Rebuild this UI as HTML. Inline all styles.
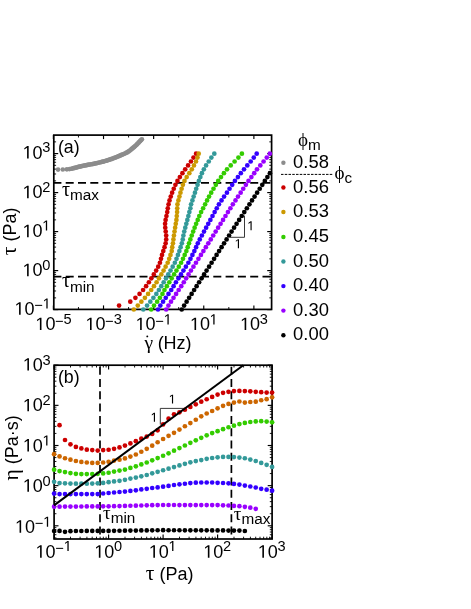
<!DOCTYPE html>
<html><head><meta charset="utf-8"><title>figure</title>
<style>html,body{margin:0;padding:0;background:#fff;}svg{display:block;will-change:transform;}text{fill:#000;}</style>
</head><body>
<svg width="471" height="609" viewBox="0 0 471 609">
<rect width="471" height="609" fill="#fff"/>
<g id="pa">
<line x1="53.40" y1="309.40" x2="53.40" y2="305.40" stroke="#000" stroke-width="1.15" />
<line x1="53.40" y1="135.10" x2="53.40" y2="139.10" stroke="#000" stroke-width="1.15" />
<line x1="78.46" y1="309.40" x2="78.46" y2="307.00" stroke="#000" stroke-width="0.9199999999999999" />
<line x1="78.46" y1="135.10" x2="78.46" y2="137.50" stroke="#000" stroke-width="0.9199999999999999" />
<line x1="103.52" y1="309.40" x2="103.52" y2="305.40" stroke="#000" stroke-width="1.15" />
<line x1="103.52" y1="135.10" x2="103.52" y2="139.10" stroke="#000" stroke-width="1.15" />
<line x1="128.58" y1="309.40" x2="128.58" y2="307.00" stroke="#000" stroke-width="0.9199999999999999" />
<line x1="128.58" y1="135.10" x2="128.58" y2="137.50" stroke="#000" stroke-width="0.9199999999999999" />
<line x1="153.64" y1="309.40" x2="153.64" y2="305.40" stroke="#000" stroke-width="1.15" />
<line x1="153.64" y1="135.10" x2="153.64" y2="139.10" stroke="#000" stroke-width="1.15" />
<line x1="178.70" y1="309.40" x2="178.70" y2="307.00" stroke="#000" stroke-width="0.9199999999999999" />
<line x1="178.70" y1="135.10" x2="178.70" y2="137.50" stroke="#000" stroke-width="0.9199999999999999" />
<line x1="203.76" y1="309.40" x2="203.76" y2="305.40" stroke="#000" stroke-width="1.15" />
<line x1="203.76" y1="135.10" x2="203.76" y2="139.10" stroke="#000" stroke-width="1.15" />
<line x1="228.82" y1="309.40" x2="228.82" y2="307.00" stroke="#000" stroke-width="0.9199999999999999" />
<line x1="228.82" y1="135.10" x2="228.82" y2="137.50" stroke="#000" stroke-width="0.9199999999999999" />
<line x1="253.88" y1="309.40" x2="253.88" y2="305.40" stroke="#000" stroke-width="1.15" />
<line x1="253.88" y1="135.10" x2="253.88" y2="139.10" stroke="#000" stroke-width="1.15" />
<line x1="53.80" y1="309.60" x2="58.20" y2="309.60" stroke="#000" stroke-width="1.15" />
<line x1="271.60" y1="309.60" x2="267.20" y2="309.60" stroke="#000" stroke-width="1.15" />
<line x1="53.80" y1="297.86" x2="56.10" y2="297.86" stroke="#000" stroke-width="0.9199999999999999" />
<line x1="271.60" y1="297.86" x2="269.30" y2="297.86" stroke="#000" stroke-width="0.9199999999999999" />
<line x1="53.80" y1="290.99" x2="56.10" y2="290.99" stroke="#000" stroke-width="0.9199999999999999" />
<line x1="271.60" y1="290.99" x2="269.30" y2="290.99" stroke="#000" stroke-width="0.9199999999999999" />
<line x1="53.80" y1="286.12" x2="56.10" y2="286.12" stroke="#000" stroke-width="0.9199999999999999" />
<line x1="271.60" y1="286.12" x2="269.30" y2="286.12" stroke="#000" stroke-width="0.9199999999999999" />
<line x1="53.80" y1="282.34" x2="56.10" y2="282.34" stroke="#000" stroke-width="0.9199999999999999" />
<line x1="271.60" y1="282.34" x2="269.30" y2="282.34" stroke="#000" stroke-width="0.9199999999999999" />
<line x1="53.80" y1="279.25" x2="56.10" y2="279.25" stroke="#000" stroke-width="0.9199999999999999" />
<line x1="271.60" y1="279.25" x2="269.30" y2="279.25" stroke="#000" stroke-width="0.9199999999999999" />
<line x1="53.80" y1="276.64" x2="56.10" y2="276.64" stroke="#000" stroke-width="0.9199999999999999" />
<line x1="271.60" y1="276.64" x2="269.30" y2="276.64" stroke="#000" stroke-width="0.9199999999999999" />
<line x1="53.80" y1="274.38" x2="56.10" y2="274.38" stroke="#000" stroke-width="0.9199999999999999" />
<line x1="271.60" y1="274.38" x2="269.30" y2="274.38" stroke="#000" stroke-width="0.9199999999999999" />
<line x1="53.80" y1="272.38" x2="56.10" y2="272.38" stroke="#000" stroke-width="0.9199999999999999" />
<line x1="271.60" y1="272.38" x2="269.30" y2="272.38" stroke="#000" stroke-width="0.9199999999999999" />
<line x1="53.80" y1="270.60" x2="58.20" y2="270.60" stroke="#000" stroke-width="1.15" />
<line x1="271.60" y1="270.60" x2="267.20" y2="270.60" stroke="#000" stroke-width="1.15" />
<line x1="53.80" y1="258.86" x2="56.10" y2="258.86" stroke="#000" stroke-width="0.9199999999999999" />
<line x1="271.60" y1="258.86" x2="269.30" y2="258.86" stroke="#000" stroke-width="0.9199999999999999" />
<line x1="53.80" y1="251.99" x2="56.10" y2="251.99" stroke="#000" stroke-width="0.9199999999999999" />
<line x1="271.60" y1="251.99" x2="269.30" y2="251.99" stroke="#000" stroke-width="0.9199999999999999" />
<line x1="53.80" y1="247.12" x2="56.10" y2="247.12" stroke="#000" stroke-width="0.9199999999999999" />
<line x1="271.60" y1="247.12" x2="269.30" y2="247.12" stroke="#000" stroke-width="0.9199999999999999" />
<line x1="53.80" y1="243.34" x2="56.10" y2="243.34" stroke="#000" stroke-width="0.9199999999999999" />
<line x1="271.60" y1="243.34" x2="269.30" y2="243.34" stroke="#000" stroke-width="0.9199999999999999" />
<line x1="53.80" y1="240.25" x2="56.10" y2="240.25" stroke="#000" stroke-width="0.9199999999999999" />
<line x1="271.60" y1="240.25" x2="269.30" y2="240.25" stroke="#000" stroke-width="0.9199999999999999" />
<line x1="53.80" y1="237.64" x2="56.10" y2="237.64" stroke="#000" stroke-width="0.9199999999999999" />
<line x1="271.60" y1="237.64" x2="269.30" y2="237.64" stroke="#000" stroke-width="0.9199999999999999" />
<line x1="53.80" y1="235.38" x2="56.10" y2="235.38" stroke="#000" stroke-width="0.9199999999999999" />
<line x1="271.60" y1="235.38" x2="269.30" y2="235.38" stroke="#000" stroke-width="0.9199999999999999" />
<line x1="53.80" y1="233.38" x2="56.10" y2="233.38" stroke="#000" stroke-width="0.9199999999999999" />
<line x1="271.60" y1="233.38" x2="269.30" y2="233.38" stroke="#000" stroke-width="0.9199999999999999" />
<line x1="53.80" y1="231.60" x2="58.20" y2="231.60" stroke="#000" stroke-width="1.15" />
<line x1="271.60" y1="231.60" x2="267.20" y2="231.60" stroke="#000" stroke-width="1.15" />
<line x1="53.80" y1="219.86" x2="56.10" y2="219.86" stroke="#000" stroke-width="0.9199999999999999" />
<line x1="271.60" y1="219.86" x2="269.30" y2="219.86" stroke="#000" stroke-width="0.9199999999999999" />
<line x1="53.80" y1="212.99" x2="56.10" y2="212.99" stroke="#000" stroke-width="0.9199999999999999" />
<line x1="271.60" y1="212.99" x2="269.30" y2="212.99" stroke="#000" stroke-width="0.9199999999999999" />
<line x1="53.80" y1="208.12" x2="56.10" y2="208.12" stroke="#000" stroke-width="0.9199999999999999" />
<line x1="271.60" y1="208.12" x2="269.30" y2="208.12" stroke="#000" stroke-width="0.9199999999999999" />
<line x1="53.80" y1="204.34" x2="56.10" y2="204.34" stroke="#000" stroke-width="0.9199999999999999" />
<line x1="271.60" y1="204.34" x2="269.30" y2="204.34" stroke="#000" stroke-width="0.9199999999999999" />
<line x1="53.80" y1="201.25" x2="56.10" y2="201.25" stroke="#000" stroke-width="0.9199999999999999" />
<line x1="271.60" y1="201.25" x2="269.30" y2="201.25" stroke="#000" stroke-width="0.9199999999999999" />
<line x1="53.80" y1="198.64" x2="56.10" y2="198.64" stroke="#000" stroke-width="0.9199999999999999" />
<line x1="271.60" y1="198.64" x2="269.30" y2="198.64" stroke="#000" stroke-width="0.9199999999999999" />
<line x1="53.80" y1="196.38" x2="56.10" y2="196.38" stroke="#000" stroke-width="0.9199999999999999" />
<line x1="271.60" y1="196.38" x2="269.30" y2="196.38" stroke="#000" stroke-width="0.9199999999999999" />
<line x1="53.80" y1="194.38" x2="56.10" y2="194.38" stroke="#000" stroke-width="0.9199999999999999" />
<line x1="271.60" y1="194.38" x2="269.30" y2="194.38" stroke="#000" stroke-width="0.9199999999999999" />
<line x1="53.80" y1="192.60" x2="58.20" y2="192.60" stroke="#000" stroke-width="1.15" />
<line x1="271.60" y1="192.60" x2="267.20" y2="192.60" stroke="#000" stroke-width="1.15" />
<line x1="53.80" y1="180.86" x2="56.10" y2="180.86" stroke="#000" stroke-width="0.9199999999999999" />
<line x1="271.60" y1="180.86" x2="269.30" y2="180.86" stroke="#000" stroke-width="0.9199999999999999" />
<line x1="53.80" y1="173.99" x2="56.10" y2="173.99" stroke="#000" stroke-width="0.9199999999999999" />
<line x1="271.60" y1="173.99" x2="269.30" y2="173.99" stroke="#000" stroke-width="0.9199999999999999" />
<line x1="53.80" y1="169.12" x2="56.10" y2="169.12" stroke="#000" stroke-width="0.9199999999999999" />
<line x1="271.60" y1="169.12" x2="269.30" y2="169.12" stroke="#000" stroke-width="0.9199999999999999" />
<line x1="53.80" y1="165.34" x2="56.10" y2="165.34" stroke="#000" stroke-width="0.9199999999999999" />
<line x1="271.60" y1="165.34" x2="269.30" y2="165.34" stroke="#000" stroke-width="0.9199999999999999" />
<line x1="53.80" y1="162.25" x2="56.10" y2="162.25" stroke="#000" stroke-width="0.9199999999999999" />
<line x1="271.60" y1="162.25" x2="269.30" y2="162.25" stroke="#000" stroke-width="0.9199999999999999" />
<line x1="53.80" y1="159.64" x2="56.10" y2="159.64" stroke="#000" stroke-width="0.9199999999999999" />
<line x1="271.60" y1="159.64" x2="269.30" y2="159.64" stroke="#000" stroke-width="0.9199999999999999" />
<line x1="53.80" y1="157.38" x2="56.10" y2="157.38" stroke="#000" stroke-width="0.9199999999999999" />
<line x1="271.60" y1="157.38" x2="269.30" y2="157.38" stroke="#000" stroke-width="0.9199999999999999" />
<line x1="53.80" y1="155.38" x2="56.10" y2="155.38" stroke="#000" stroke-width="0.9199999999999999" />
<line x1="271.60" y1="155.38" x2="269.30" y2="155.38" stroke="#000" stroke-width="0.9199999999999999" />
<line x1="53.80" y1="153.60" x2="58.20" y2="153.60" stroke="#000" stroke-width="1.15" />
<line x1="271.60" y1="153.60" x2="267.20" y2="153.60" stroke="#000" stroke-width="1.15" />
<line x1="53.80" y1="141.86" x2="56.10" y2="141.86" stroke="#000" stroke-width="0.9199999999999999" />
<line x1="271.60" y1="141.86" x2="269.30" y2="141.86" stroke="#000" stroke-width="0.9199999999999999" />
<rect x="53.8" y="135.1" width="217.80" height="174.30" fill="none" stroke="#000" stroke-width="1.7"/>
<line x1="53.80" y1="182.90" x2="271.60" y2="182.90" stroke="#000" stroke-width="1.7" stroke-dasharray="8.0 4.3" stroke-dashoffset="0.4"/>
<line x1="53.80" y1="276.60" x2="271.60" y2="276.60" stroke="#000" stroke-width="1.7" stroke-dasharray="8.0 4.3" stroke-dashoffset="0.4"/>
<circle cx="58.05" cy="169.60" r="2.35" fill="#8c8c8c"/>
<circle cx="62.80" cy="169.50" r="2.35" fill="#8c8c8c"/>
<circle cx="66.90" cy="169.30" r="2.35" fill="#8c8c8c"/>
<circle cx="69.50" cy="169.10" r="2.35" fill="#8c8c8c"/>
<circle cx="71.30" cy="168.74" r="2.35" fill="#8c8c8c"/>
<circle cx="72.47" cy="168.48" r="2.35" fill="#8c8c8c"/>
<circle cx="73.64" cy="168.20" r="2.35" fill="#8c8c8c"/>
<circle cx="74.80" cy="167.90" r="2.35" fill="#8c8c8c"/>
<circle cx="75.96" cy="167.59" r="2.35" fill="#8c8c8c"/>
<circle cx="77.12" cy="167.28" r="2.35" fill="#8c8c8c"/>
<circle cx="78.28" cy="166.97" r="2.35" fill="#8c8c8c"/>
<circle cx="79.44" cy="166.67" r="2.35" fill="#8c8c8c"/>
<circle cx="80.60" cy="166.38" r="2.35" fill="#8c8c8c"/>
<circle cx="81.77" cy="166.11" r="2.35" fill="#8c8c8c"/>
<circle cx="82.94" cy="165.85" r="2.35" fill="#8c8c8c"/>
<circle cx="84.12" cy="165.62" r="2.35" fill="#8c8c8c"/>
<circle cx="85.29" cy="165.39" r="2.35" fill="#8c8c8c"/>
<circle cx="86.47" cy="165.16" r="2.35" fill="#8c8c8c"/>
<circle cx="87.65" cy="164.94" r="2.35" fill="#8c8c8c"/>
<circle cx="88.83" cy="164.72" r="2.35" fill="#8c8c8c"/>
<circle cx="90.01" cy="164.50" r="2.35" fill="#8c8c8c"/>
<circle cx="91.19" cy="164.27" r="2.35" fill="#8c8c8c"/>
<circle cx="92.37" cy="164.03" r="2.35" fill="#8c8c8c"/>
<circle cx="93.54" cy="163.78" r="2.35" fill="#8c8c8c"/>
<circle cx="94.72" cy="163.53" r="2.35" fill="#8c8c8c"/>
<circle cx="95.89" cy="163.28" r="2.35" fill="#8c8c8c"/>
<circle cx="97.06" cy="163.03" r="2.35" fill="#8c8c8c"/>
<circle cx="98.24" cy="162.77" r="2.35" fill="#8c8c8c"/>
<circle cx="99.41" cy="162.51" r="2.35" fill="#8c8c8c"/>
<circle cx="100.58" cy="162.23" r="2.35" fill="#8c8c8c"/>
<circle cx="101.74" cy="161.95" r="2.35" fill="#8c8c8c"/>
<circle cx="102.91" cy="161.65" r="2.35" fill="#8c8c8c"/>
<circle cx="104.07" cy="161.34" r="2.35" fill="#8c8c8c"/>
<circle cx="105.23" cy="161.01" r="2.35" fill="#8c8c8c"/>
<circle cx="106.38" cy="160.67" r="2.35" fill="#8c8c8c"/>
<circle cx="107.53" cy="160.31" r="2.35" fill="#8c8c8c"/>
<circle cx="108.67" cy="159.95" r="2.35" fill="#8c8c8c"/>
<circle cx="109.81" cy="159.57" r="2.35" fill="#8c8c8c"/>
<circle cx="110.95" cy="159.18" r="2.35" fill="#8c8c8c"/>
<circle cx="112.08" cy="158.78" r="2.35" fill="#8c8c8c"/>
<circle cx="113.21" cy="158.36" r="2.35" fill="#8c8c8c"/>
<circle cx="114.33" cy="157.93" r="2.35" fill="#8c8c8c"/>
<circle cx="115.45" cy="157.50" r="2.35" fill="#8c8c8c"/>
<circle cx="116.57" cy="157.05" r="2.35" fill="#8c8c8c"/>
<circle cx="117.68" cy="156.59" r="2.35" fill="#8c8c8c"/>
<circle cx="118.79" cy="156.13" r="2.35" fill="#8c8c8c"/>
<circle cx="119.90" cy="155.66" r="2.35" fill="#8c8c8c"/>
<circle cx="121.00" cy="155.19" r="2.35" fill="#8c8c8c"/>
<circle cx="122.10" cy="154.71" r="2.35" fill="#8c8c8c"/>
<circle cx="123.21" cy="154.25" r="2.35" fill="#8c8c8c"/>
<circle cx="124.31" cy="153.76" r="2.35" fill="#8c8c8c"/>
<circle cx="125.40" cy="153.26" r="2.35" fill="#8c8c8c"/>
<circle cx="126.49" cy="152.72" r="2.35" fill="#8c8c8c"/>
<circle cx="127.55" cy="152.13" r="2.35" fill="#8c8c8c"/>
<circle cx="128.58" cy="151.46" r="2.35" fill="#8c8c8c"/>
<circle cx="129.57" cy="150.74" r="2.35" fill="#8c8c8c"/>
<circle cx="130.52" cy="149.98" r="2.35" fill="#8c8c8c"/>
<circle cx="131.45" cy="149.22" r="2.35" fill="#8c8c8c"/>
<circle cx="132.38" cy="148.47" r="2.35" fill="#8c8c8c"/>
<circle cx="133.31" cy="147.69" r="2.35" fill="#8c8c8c"/>
<circle cx="134.23" cy="146.91" r="2.35" fill="#8c8c8c"/>
<circle cx="135.13" cy="146.10" r="2.35" fill="#8c8c8c"/>
<circle cx="136.02" cy="145.28" r="2.35" fill="#8c8c8c"/>
<circle cx="136.89" cy="144.42" r="2.35" fill="#8c8c8c"/>
<circle cx="137.73" cy="143.55" r="2.35" fill="#8c8c8c"/>
<circle cx="138.55" cy="142.67" r="2.35" fill="#8c8c8c"/>
<circle cx="139.38" cy="141.82" r="2.35" fill="#8c8c8c"/>
<circle cx="140.22" cy="140.97" r="2.35" fill="#8c8c8c"/>
<circle cx="141.07" cy="140.12" r="2.35" fill="#8c8c8c"/>
<circle cx="141.90" cy="139.30" r="2.35" fill="#8c8c8c"/>
<circle cx="119.08" cy="305.61" r="2.35" fill="#cc0000"/>
<circle cx="130.29" cy="301.71" r="2.35" fill="#cc0000"/>
<circle cx="135.41" cy="297.81" r="2.35" fill="#cc0000"/>
<circle cx="139.55" cy="293.92" r="2.35" fill="#cc0000"/>
<circle cx="143.07" cy="290.02" r="2.35" fill="#cc0000"/>
<circle cx="146.09" cy="286.13" r="2.35" fill="#cc0000"/>
<circle cx="148.87" cy="282.24" r="2.35" fill="#cc0000"/>
<circle cx="151.34" cy="278.34" r="2.35" fill="#cc0000"/>
<circle cx="153.81" cy="274.44" r="2.35" fill="#cc0000"/>
<circle cx="156.17" cy="270.55" r="2.35" fill="#cc0000"/>
<circle cx="158.22" cy="266.65" r="2.35" fill="#cc0000"/>
<circle cx="159.91" cy="262.76" r="2.35" fill="#cc0000"/>
<circle cx="161.01" cy="258.87" r="2.35" fill="#cc0000"/>
<circle cx="162.01" cy="254.97" r="2.35" fill="#cc0000"/>
<circle cx="163.28" cy="251.07" r="2.35" fill="#cc0000"/>
<circle cx="164.53" cy="247.18" r="2.35" fill="#cc0000"/>
<circle cx="165.63" cy="243.28" r="2.35" fill="#cc0000"/>
<circle cx="166.20" cy="239.39" r="2.35" fill="#cc0000"/>
<circle cx="166.19" cy="235.50" r="2.35" fill="#cc0000"/>
<circle cx="165.70" cy="231.60" r="2.35" fill="#cc0000"/>
<circle cx="165.25" cy="227.70" r="2.35" fill="#cc0000"/>
<circle cx="165.08" cy="223.81" r="2.35" fill="#cc0000"/>
<circle cx="165.61" cy="219.92" r="2.35" fill="#cc0000"/>
<circle cx="166.44" cy="216.02" r="2.35" fill="#cc0000"/>
<circle cx="167.24" cy="212.12" r="2.35" fill="#cc0000"/>
<circle cx="167.78" cy="208.23" r="2.35" fill="#cc0000"/>
<circle cx="168.56" cy="204.33" r="2.35" fill="#cc0000"/>
<circle cx="169.51" cy="200.44" r="2.35" fill="#cc0000"/>
<circle cx="170.76" cy="196.55" r="2.35" fill="#cc0000"/>
<circle cx="172.13" cy="192.65" r="2.35" fill="#cc0000"/>
<circle cx="173.75" cy="188.75" r="2.35" fill="#cc0000"/>
<circle cx="175.43" cy="184.86" r="2.35" fill="#cc0000"/>
<circle cx="177.48" cy="180.97" r="2.35" fill="#cc0000"/>
<circle cx="179.88" cy="177.07" r="2.35" fill="#cc0000"/>
<circle cx="182.42" cy="173.18" r="2.35" fill="#cc0000"/>
<circle cx="185.21" cy="169.28" r="2.35" fill="#cc0000"/>
<circle cx="188.08" cy="165.38" r="2.35" fill="#cc0000"/>
<circle cx="190.94" cy="161.49" r="2.35" fill="#cc0000"/>
<circle cx="193.52" cy="157.59" r="2.35" fill="#cc0000"/>
<circle cx="196.10" cy="153.70" r="2.35" fill="#cc0000"/>
<circle cx="133.80" cy="309.50" r="2.35" fill="#cc9900"/>
<circle cx="137.78" cy="305.61" r="2.35" fill="#cc9900"/>
<circle cx="141.37" cy="301.71" r="2.35" fill="#cc9900"/>
<circle cx="144.92" cy="297.81" r="2.35" fill="#cc9900"/>
<circle cx="148.10" cy="293.92" r="2.35" fill="#cc9900"/>
<circle cx="151.20" cy="290.02" r="2.35" fill="#cc9900"/>
<circle cx="153.98" cy="286.13" r="2.35" fill="#cc9900"/>
<circle cx="156.58" cy="282.24" r="2.35" fill="#cc9900"/>
<circle cx="158.94" cy="278.34" r="2.35" fill="#cc9900"/>
<circle cx="161.32" cy="274.44" r="2.35" fill="#cc9900"/>
<circle cx="163.57" cy="270.55" r="2.35" fill="#cc9900"/>
<circle cx="165.63" cy="266.65" r="2.35" fill="#cc9900"/>
<circle cx="167.69" cy="262.76" r="2.35" fill="#cc9900"/>
<circle cx="169.19" cy="258.87" r="2.35" fill="#cc9900"/>
<circle cx="170.47" cy="254.97" r="2.35" fill="#cc9900"/>
<circle cx="171.72" cy="251.07" r="2.35" fill="#cc9900"/>
<circle cx="172.22" cy="247.18" r="2.35" fill="#cc9900"/>
<circle cx="172.93" cy="243.28" r="2.35" fill="#cc9900"/>
<circle cx="173.42" cy="239.39" r="2.35" fill="#cc9900"/>
<circle cx="173.92" cy="235.50" r="2.35" fill="#cc9900"/>
<circle cx="174.52" cy="231.60" r="2.35" fill="#cc9900"/>
<circle cx="175.12" cy="227.70" r="2.35" fill="#cc9900"/>
<circle cx="175.78" cy="223.81" r="2.35" fill="#cc9900"/>
<circle cx="176.42" cy="219.92" r="2.35" fill="#cc9900"/>
<circle cx="176.76" cy="216.02" r="2.35" fill="#cc9900"/>
<circle cx="177.10" cy="212.12" r="2.35" fill="#cc9900"/>
<circle cx="177.25" cy="208.23" r="2.35" fill="#cc9900"/>
<circle cx="177.46" cy="204.33" r="2.35" fill="#cc9900"/>
<circle cx="178.39" cy="200.44" r="2.35" fill="#cc9900"/>
<circle cx="179.42" cy="196.55" r="2.35" fill="#cc9900"/>
<circle cx="180.46" cy="192.65" r="2.35" fill="#cc9900"/>
<circle cx="181.61" cy="188.75" r="2.35" fill="#cc9900"/>
<circle cx="182.88" cy="184.86" r="2.35" fill="#cc9900"/>
<circle cx="184.48" cy="180.97" r="2.35" fill="#cc9900"/>
<circle cx="186.69" cy="177.07" r="2.35" fill="#cc9900"/>
<circle cx="189.32" cy="173.18" r="2.35" fill="#cc9900"/>
<circle cx="191.81" cy="169.28" r="2.35" fill="#cc9900"/>
<circle cx="193.96" cy="165.38" r="2.35" fill="#cc9900"/>
<circle cx="195.98" cy="161.49" r="2.35" fill="#cc9900"/>
<circle cx="197.50" cy="157.59" r="2.35" fill="#cc9900"/>
<circle cx="198.70" cy="153.70" r="2.35" fill="#cc9900"/>
<circle cx="143.30" cy="309.50" r="2.35" fill="#339999"/>
<circle cx="147.06" cy="305.61" r="2.35" fill="#339999"/>
<circle cx="150.33" cy="301.71" r="2.35" fill="#339999"/>
<circle cx="153.40" cy="297.81" r="2.35" fill="#339999"/>
<circle cx="156.35" cy="293.92" r="2.35" fill="#339999"/>
<circle cx="158.89" cy="290.02" r="2.35" fill="#339999"/>
<circle cx="161.30" cy="286.13" r="2.35" fill="#339999"/>
<circle cx="163.69" cy="282.24" r="2.35" fill="#339999"/>
<circle cx="165.98" cy="278.34" r="2.35" fill="#339999"/>
<circle cx="168.28" cy="274.44" r="2.35" fill="#339999"/>
<circle cx="170.52" cy="270.55" r="2.35" fill="#339999"/>
<circle cx="172.69" cy="266.65" r="2.35" fill="#339999"/>
<circle cx="174.85" cy="262.76" r="2.35" fill="#339999"/>
<circle cx="176.51" cy="258.87" r="2.35" fill="#339999"/>
<circle cx="177.94" cy="254.97" r="2.35" fill="#339999"/>
<circle cx="179.37" cy="251.07" r="2.35" fill="#339999"/>
<circle cx="180.61" cy="247.18" r="2.35" fill="#339999"/>
<circle cx="181.84" cy="243.28" r="2.35" fill="#339999"/>
<circle cx="182.75" cy="239.39" r="2.35" fill="#339999"/>
<circle cx="183.39" cy="235.50" r="2.35" fill="#339999"/>
<circle cx="184.24" cy="231.60" r="2.35" fill="#339999"/>
<circle cx="185.28" cy="227.70" r="2.35" fill="#339999"/>
<circle cx="186.32" cy="223.81" r="2.35" fill="#339999"/>
<circle cx="187.35" cy="219.92" r="2.35" fill="#339999"/>
<circle cx="188.36" cy="216.02" r="2.35" fill="#339999"/>
<circle cx="189.36" cy="212.12" r="2.35" fill="#339999"/>
<circle cx="190.37" cy="208.23" r="2.35" fill="#339999"/>
<circle cx="191.09" cy="204.33" r="2.35" fill="#339999"/>
<circle cx="192.41" cy="200.44" r="2.35" fill="#339999"/>
<circle cx="193.66" cy="196.55" r="2.35" fill="#339999"/>
<circle cx="194.97" cy="192.65" r="2.35" fill="#339999"/>
<circle cx="196.22" cy="188.75" r="2.35" fill="#339999"/>
<circle cx="197.55" cy="184.86" r="2.35" fill="#339999"/>
<circle cx="198.85" cy="180.97" r="2.35" fill="#339999"/>
<circle cx="200.35" cy="177.07" r="2.35" fill="#339999"/>
<circle cx="201.91" cy="173.18" r="2.35" fill="#339999"/>
<circle cx="203.86" cy="169.28" r="2.35" fill="#339999"/>
<circle cx="206.08" cy="165.38" r="2.35" fill="#339999"/>
<circle cx="208.74" cy="161.49" r="2.35" fill="#339999"/>
<circle cx="211.36" cy="157.59" r="2.35" fill="#339999"/>
<circle cx="214.30" cy="153.70" r="2.35" fill="#339999"/>
<circle cx="151.20" cy="309.50" r="2.35" fill="#33cc00"/>
<circle cx="154.01" cy="305.61" r="2.35" fill="#33cc00"/>
<circle cx="157.11" cy="301.71" r="2.35" fill="#33cc00"/>
<circle cx="159.88" cy="297.81" r="2.35" fill="#33cc00"/>
<circle cx="162.46" cy="293.92" r="2.35" fill="#33cc00"/>
<circle cx="164.47" cy="290.02" r="2.35" fill="#33cc00"/>
<circle cx="166.85" cy="286.13" r="2.35" fill="#33cc00"/>
<circle cx="169.31" cy="282.24" r="2.35" fill="#33cc00"/>
<circle cx="171.71" cy="278.34" r="2.35" fill="#33cc00"/>
<circle cx="174.12" cy="274.44" r="2.35" fill="#33cc00"/>
<circle cx="176.48" cy="270.55" r="2.35" fill="#33cc00"/>
<circle cx="178.80" cy="266.65" r="2.35" fill="#33cc00"/>
<circle cx="181.11" cy="262.76" r="2.35" fill="#33cc00"/>
<circle cx="182.99" cy="258.87" r="2.35" fill="#33cc00"/>
<circle cx="184.68" cy="254.97" r="2.35" fill="#33cc00"/>
<circle cx="186.37" cy="251.07" r="2.35" fill="#33cc00"/>
<circle cx="187.69" cy="247.18" r="2.35" fill="#33cc00"/>
<circle cx="189.00" cy="243.28" r="2.35" fill="#33cc00"/>
<circle cx="190.35" cy="239.39" r="2.35" fill="#33cc00"/>
<circle cx="191.77" cy="235.50" r="2.35" fill="#33cc00"/>
<circle cx="193.19" cy="231.60" r="2.35" fill="#33cc00"/>
<circle cx="194.62" cy="227.70" r="2.35" fill="#33cc00"/>
<circle cx="196.16" cy="223.81" r="2.35" fill="#33cc00"/>
<circle cx="197.73" cy="219.92" r="2.35" fill="#33cc00"/>
<circle cx="199.29" cy="216.02" r="2.35" fill="#33cc00"/>
<circle cx="201.12" cy="212.12" r="2.35" fill="#33cc00"/>
<circle cx="203.13" cy="208.23" r="2.35" fill="#33cc00"/>
<circle cx="205.13" cy="204.33" r="2.35" fill="#33cc00"/>
<circle cx="207.08" cy="200.44" r="2.35" fill="#33cc00"/>
<circle cx="209.05" cy="196.55" r="2.35" fill="#33cc00"/>
<circle cx="211.22" cy="192.65" r="2.35" fill="#33cc00"/>
<circle cx="213.51" cy="188.75" r="2.35" fill="#33cc00"/>
<circle cx="215.86" cy="184.86" r="2.35" fill="#33cc00"/>
<circle cx="218.20" cy="180.97" r="2.35" fill="#33cc00"/>
<circle cx="221.00" cy="177.07" r="2.35" fill="#33cc00"/>
<circle cx="223.92" cy="173.18" r="2.35" fill="#33cc00"/>
<circle cx="227.02" cy="169.28" r="2.35" fill="#33cc00"/>
<circle cx="230.72" cy="165.38" r="2.35" fill="#33cc00"/>
<circle cx="234.60" cy="161.49" r="2.35" fill="#33cc00"/>
<circle cx="238.41" cy="157.59" r="2.35" fill="#33cc00"/>
<circle cx="241.90" cy="153.70" r="2.35" fill="#33cc00"/>
<circle cx="158.00" cy="309.50" r="2.35" fill="#3300ff"/>
<circle cx="160.34" cy="305.61" r="2.35" fill="#3300ff"/>
<circle cx="163.06" cy="301.71" r="2.35" fill="#3300ff"/>
<circle cx="165.78" cy="297.81" r="2.35" fill="#3300ff"/>
<circle cx="168.50" cy="293.92" r="2.35" fill="#3300ff"/>
<circle cx="171.22" cy="290.02" r="2.35" fill="#3300ff"/>
<circle cx="173.60" cy="286.13" r="2.35" fill="#3300ff"/>
<circle cx="175.93" cy="282.24" r="2.35" fill="#3300ff"/>
<circle cx="178.44" cy="278.34" r="2.35" fill="#3300ff"/>
<circle cx="180.95" cy="274.44" r="2.35" fill="#3300ff"/>
<circle cx="183.44" cy="270.55" r="2.35" fill="#3300ff"/>
<circle cx="185.90" cy="266.65" r="2.35" fill="#3300ff"/>
<circle cx="188.37" cy="262.76" r="2.35" fill="#3300ff"/>
<circle cx="190.47" cy="258.87" r="2.35" fill="#3300ff"/>
<circle cx="192.41" cy="254.97" r="2.35" fill="#3300ff"/>
<circle cx="194.36" cy="251.07" r="2.35" fill="#3300ff"/>
<circle cx="196.09" cy="247.18" r="2.35" fill="#3300ff"/>
<circle cx="197.81" cy="243.28" r="2.35" fill="#3300ff"/>
<circle cx="199.75" cy="239.39" r="2.35" fill="#3300ff"/>
<circle cx="201.88" cy="235.50" r="2.35" fill="#3300ff"/>
<circle cx="204.00" cy="231.60" r="2.35" fill="#3300ff"/>
<circle cx="206.13" cy="227.70" r="2.35" fill="#3300ff"/>
<circle cx="208.26" cy="223.81" r="2.35" fill="#3300ff"/>
<circle cx="210.38" cy="219.92" r="2.35" fill="#3300ff"/>
<circle cx="212.51" cy="216.02" r="2.35" fill="#3300ff"/>
<circle cx="214.64" cy="212.12" r="2.35" fill="#3300ff"/>
<circle cx="216.76" cy="208.23" r="2.35" fill="#3300ff"/>
<circle cx="218.91" cy="204.33" r="2.35" fill="#3300ff"/>
<circle cx="221.51" cy="200.44" r="2.35" fill="#3300ff"/>
<circle cx="224.09" cy="196.55" r="2.35" fill="#3300ff"/>
<circle cx="226.93" cy="192.65" r="2.35" fill="#3300ff"/>
<circle cx="229.54" cy="188.75" r="2.35" fill="#3300ff"/>
<circle cx="232.20" cy="184.86" r="2.35" fill="#3300ff"/>
<circle cx="234.90" cy="180.97" r="2.35" fill="#3300ff"/>
<circle cx="237.90" cy="177.07" r="2.35" fill="#3300ff"/>
<circle cx="240.82" cy="173.18" r="2.35" fill="#3300ff"/>
<circle cx="244.02" cy="169.28" r="2.35" fill="#3300ff"/>
<circle cx="247.30" cy="165.38" r="2.35" fill="#3300ff"/>
<circle cx="250.67" cy="161.49" r="2.35" fill="#3300ff"/>
<circle cx="253.77" cy="157.59" r="2.35" fill="#3300ff"/>
<circle cx="256.70" cy="153.70" r="2.35" fill="#3300ff"/>
<circle cx="166.20" cy="309.50" r="2.35" fill="#9900ff"/>
<circle cx="168.43" cy="305.61" r="2.35" fill="#9900ff"/>
<circle cx="170.99" cy="301.71" r="2.35" fill="#9900ff"/>
<circle cx="173.54" cy="297.81" r="2.35" fill="#9900ff"/>
<circle cx="176.10" cy="293.92" r="2.35" fill="#9900ff"/>
<circle cx="178.66" cy="290.02" r="2.35" fill="#9900ff"/>
<circle cx="181.25" cy="286.13" r="2.35" fill="#9900ff"/>
<circle cx="183.80" cy="282.24" r="2.35" fill="#9900ff"/>
<circle cx="186.17" cy="278.34" r="2.35" fill="#9900ff"/>
<circle cx="188.54" cy="274.44" r="2.35" fill="#9900ff"/>
<circle cx="190.96" cy="270.55" r="2.35" fill="#9900ff"/>
<circle cx="193.46" cy="266.65" r="2.35" fill="#9900ff"/>
<circle cx="195.96" cy="262.76" r="2.35" fill="#9900ff"/>
<circle cx="198.44" cy="258.87" r="2.35" fill="#9900ff"/>
<circle cx="200.92" cy="254.97" r="2.35" fill="#9900ff"/>
<circle cx="203.40" cy="251.07" r="2.35" fill="#9900ff"/>
<circle cx="205.86" cy="247.18" r="2.35" fill="#9900ff"/>
<circle cx="208.31" cy="243.28" r="2.35" fill="#9900ff"/>
<circle cx="210.76" cy="239.39" r="2.35" fill="#9900ff"/>
<circle cx="213.22" cy="235.50" r="2.35" fill="#9900ff"/>
<circle cx="215.67" cy="231.60" r="2.35" fill="#9900ff"/>
<circle cx="218.12" cy="227.70" r="2.35" fill="#9900ff"/>
<circle cx="220.58" cy="223.81" r="2.35" fill="#9900ff"/>
<circle cx="223.03" cy="219.92" r="2.35" fill="#9900ff"/>
<circle cx="225.48" cy="216.02" r="2.35" fill="#9900ff"/>
<circle cx="227.93" cy="212.12" r="2.35" fill="#9900ff"/>
<circle cx="230.39" cy="208.23" r="2.35" fill="#9900ff"/>
<circle cx="232.84" cy="204.33" r="2.35" fill="#9900ff"/>
<circle cx="235.50" cy="200.44" r="2.35" fill="#9900ff"/>
<circle cx="238.01" cy="196.55" r="2.35" fill="#9900ff"/>
<circle cx="240.66" cy="192.65" r="2.35" fill="#9900ff"/>
<circle cx="243.24" cy="188.75" r="2.35" fill="#9900ff"/>
<circle cx="245.89" cy="184.86" r="2.35" fill="#9900ff"/>
<circle cx="248.50" cy="180.97" r="2.35" fill="#9900ff"/>
<circle cx="251.39" cy="177.07" r="2.35" fill="#9900ff"/>
<circle cx="254.22" cy="173.18" r="2.35" fill="#9900ff"/>
<circle cx="257.02" cy="169.28" r="2.35" fill="#9900ff"/>
<circle cx="260.30" cy="165.38" r="2.35" fill="#9900ff"/>
<circle cx="263.57" cy="161.49" r="2.35" fill="#9900ff"/>
<circle cx="266.78" cy="157.59" r="2.35" fill="#9900ff"/>
<circle cx="269.80" cy="153.70" r="2.35" fill="#9900ff"/>
<circle cx="181.70" cy="309.50" r="2.35" fill="#000000"/>
<circle cx="184.13" cy="305.61" r="2.35" fill="#000000"/>
<circle cx="186.63" cy="301.71" r="2.35" fill="#000000"/>
<circle cx="189.13" cy="297.81" r="2.35" fill="#000000"/>
<circle cx="191.62" cy="293.92" r="2.35" fill="#000000"/>
<circle cx="194.12" cy="290.02" r="2.35" fill="#000000"/>
<circle cx="196.62" cy="286.13" r="2.35" fill="#000000"/>
<circle cx="199.11" cy="282.24" r="2.35" fill="#000000"/>
<circle cx="201.61" cy="278.34" r="2.35" fill="#000000"/>
<circle cx="204.11" cy="274.44" r="2.35" fill="#000000"/>
<circle cx="206.60" cy="270.55" r="2.35" fill="#000000"/>
<circle cx="209.10" cy="266.65" r="2.35" fill="#000000"/>
<circle cx="211.60" cy="262.76" r="2.35" fill="#000000"/>
<circle cx="214.09" cy="258.87" r="2.35" fill="#000000"/>
<circle cx="216.59" cy="254.97" r="2.35" fill="#000000"/>
<circle cx="219.09" cy="251.07" r="2.35" fill="#000000"/>
<circle cx="221.58" cy="247.18" r="2.35" fill="#000000"/>
<circle cx="224.08" cy="243.28" r="2.35" fill="#000000"/>
<circle cx="226.58" cy="239.39" r="2.35" fill="#000000"/>
<circle cx="229.07" cy="235.50" r="2.35" fill="#000000"/>
<circle cx="231.57" cy="231.60" r="2.35" fill="#000000"/>
<circle cx="234.07" cy="227.70" r="2.35" fill="#000000"/>
<circle cx="236.58" cy="223.81" r="2.35" fill="#000000"/>
<circle cx="239.15" cy="219.92" r="2.35" fill="#000000"/>
<circle cx="241.72" cy="216.02" r="2.35" fill="#000000"/>
<circle cx="244.29" cy="212.12" r="2.35" fill="#000000"/>
<circle cx="246.86" cy="208.23" r="2.35" fill="#000000"/>
<circle cx="249.43" cy="204.33" r="2.35" fill="#000000"/>
<circle cx="252.00" cy="200.44" r="2.35" fill="#000000"/>
<circle cx="254.57" cy="196.55" r="2.35" fill="#000000"/>
<circle cx="257.14" cy="192.65" r="2.35" fill="#000000"/>
<circle cx="259.71" cy="188.75" r="2.35" fill="#000000"/>
<circle cx="262.28" cy="184.86" r="2.35" fill="#000000"/>
<circle cx="264.84" cy="180.97" r="2.35" fill="#000000"/>
<circle cx="267.41" cy="177.07" r="2.35" fill="#000000"/>
<circle cx="269.90" cy="173.18" r="2.35" fill="#000000"/>
<path d="M230.1 237.3H244.5V215.6" fill="none" stroke="#222" stroke-width="0.9"/>
<path d="M250.50 230.30 L250.50 222.45 L248.49 223.89 L248.49 222.81 L250.60 221.36 L251.65 221.36 L251.65 230.30Z" fill="#000"/>
<path d="M237.85 248.20 L237.85 240.35 L235.84 241.79 L235.84 240.71 L237.95 239.26 L239.00 239.26 L239.00 248.20Z" fill="#000"/>
<path d="M39.89 330.10 L39.89 319.23 L37.10 321.22 L37.10 319.73 L40.02 317.72 L41.48 317.72 L41.48 330.10Z" fill="#000"/><text x="45.38" y="330.10" font-family="Liberation Sans, sans-serif" font-size="18">0</text><text x="54.99" y="326.00" font-family="Liberation Sans, sans-serif" font-size="14.6">−</text><text x="63.51" y="324.40" font-family="Liberation Sans, sans-serif" font-size="14.6">5</text>
<path d="M90.01 330.10 L90.01 319.23 L87.22 321.22 L87.22 319.73 L90.14 317.72 L91.60 317.72 L91.60 330.10Z" fill="#000"/><text x="95.50" y="330.10" font-family="Liberation Sans, sans-serif" font-size="18">0</text><text x="105.11" y="326.00" font-family="Liberation Sans, sans-serif" font-size="14.6">−</text><text x="113.63" y="324.40" font-family="Liberation Sans, sans-serif" font-size="14.6">3</text>
<path d="M140.13 330.10 L140.13 319.23 L137.34 321.22 L137.34 319.73 L140.26 317.72 L141.72 317.72 L141.72 330.10Z" fill="#000"/><text x="145.62" y="330.10" font-family="Liberation Sans, sans-serif" font-size="18">0</text><text x="155.23" y="326.00" font-family="Liberation Sans, sans-serif" font-size="14.6">−</text><path d="M167.43 324.40 L167.43 315.58 L165.16 317.20 L165.16 315.99 L167.53 314.36 L168.72 314.36 L168.72 324.40Z" fill="#000"/>
<path d="M194.51 330.10 L194.51 319.23 L191.72 321.22 L191.72 319.73 L194.65 317.72 L196.11 317.72 L196.11 330.10Z" fill="#000"/><text x="200.00" y="330.10" font-family="Liberation Sans, sans-serif" font-size="18">0</text><path d="M213.28 324.40 L213.28 315.58 L211.02 317.20 L211.02 315.99 L213.39 314.36 L214.57 314.36 L214.57 324.40Z" fill="#000"/>
<path d="M244.63 330.10 L244.63 319.23 L241.84 321.22 L241.84 319.73 L244.77 317.72 L246.23 317.72 L246.23 330.10Z" fill="#000"/><text x="250.12" y="330.10" font-family="Liberation Sans, sans-serif" font-size="18">0</text><text x="259.73" y="324.40" font-family="Liberation Sans, sans-serif" font-size="14.6">3</text>
<path d="M19.06 314.70 L19.06 303.83 L16.26 305.82 L16.26 304.33 L19.19 302.32 L20.65 302.32 L20.65 314.70Z" fill="#000"/><text x="24.54" y="314.70" font-family="Liberation Sans, sans-serif" font-size="18">0</text><text x="34.15" y="310.20" font-family="Liberation Sans, sans-serif" font-size="14.6">−</text><path d="M46.35 308.60 L46.35 299.78 L44.08 301.40 L44.08 300.19 L46.46 298.56 L47.64 298.56 L47.64 308.60Z" fill="#000"/>
<path d="M27.08 276.20 L27.08 265.33 L24.29 267.32 L24.29 265.83 L27.21 263.82 L28.67 263.82 L28.67 276.20Z" fill="#000"/><text x="32.57" y="276.20" font-family="Liberation Sans, sans-serif" font-size="18">0</text><text x="42.18" y="269.60" font-family="Liberation Sans, sans-serif" font-size="14.6">0</text>
<path d="M27.08 237.20 L27.08 226.33 L24.29 228.32 L24.29 226.83 L27.21 224.82 L28.67 224.82 L28.67 237.20Z" fill="#000"/><text x="32.57" y="237.20" font-family="Liberation Sans, sans-serif" font-size="18">0</text><path d="M45.85 230.60 L45.85 221.78 L43.58 223.40 L43.58 222.19 L45.96 220.56 L47.14 220.56 L47.14 230.60Z" fill="#000"/>
<path d="M27.08 198.20 L27.08 187.33 L24.29 189.32 L24.29 187.83 L27.21 185.82 L28.67 185.82 L28.67 198.20Z" fill="#000"/><text x="32.57" y="198.20" font-family="Liberation Sans, sans-serif" font-size="18">0</text><text x="42.18" y="191.60" font-family="Liberation Sans, sans-serif" font-size="14.6">2</text>
<path d="M27.08 158.50 L27.08 147.63 L24.29 149.62 L24.29 148.13 L27.21 146.12 L28.67 146.12 L28.67 158.50Z" fill="#000"/><text x="32.57" y="158.50" font-family="Liberation Sans, sans-serif" font-size="18">0</text><text x="42.18" y="151.90" font-family="Liberation Sans, sans-serif" font-size="14.6">3</text>
<text x="57.9" y="153.2" font-family="Liberation Sans, sans-serif" font-size="17.8">(a)</text>
<text x="61.9" y="196.2" font-family="Liberation Serif, serif" font-size="20">τ<tspan font-family="Liberation Sans, sans-serif" font-size="15.3" dy="3.4">max</tspan></text>
<text x="61.9" y="287.3" font-family="Liberation Serif, serif" font-size="20">τ<tspan font-family="Liberation Sans, sans-serif" font-size="15.3" dy="4.2">min</tspan></text>
<text transform="translate(15.9,255.2) rotate(-90)" font-family="Liberation Sans, sans-serif" font-size="18"><tspan font-family="Liberation Serif, serif" font-size="21.5">τ</tspan> (Pa)</text>
<text x="144.6" y="349.0" font-family="Liberation Sans, sans-serif" font-size="18"><tspan font-family="Liberation Serif, serif" font-size="19.5">γ</tspan><tspan dx="-0.6"> (Hz)</tspan></text>
<circle cx="147.30" cy="336.40" r="0.95" fill="#000"/>
</g>
<g id="leg">
<circle cx="283.40" cy="162.80" r="2.20" fill="#8c8c8c"/>
<text x="293.1" y="167.90" font-family="Liberation Sans, sans-serif" font-size="18.4">0.58</text>
<circle cx="283.40" cy="187.50" r="2.20" fill="#cc0000"/>
<text x="293.1" y="192.60" font-family="Liberation Sans, sans-serif" font-size="18.4">0.56</text>
<circle cx="283.40" cy="212.00" r="2.20" fill="#cc9900"/>
<text x="293.1" y="217.10" font-family="Liberation Sans, sans-serif" font-size="18.4">0.53</text>
<circle cx="283.40" cy="237.00" r="2.20" fill="#33cc00"/>
<text x="293.1" y="242.10" font-family="Liberation Sans, sans-serif" font-size="18.4">0.45</text>
<circle cx="283.40" cy="261.50" r="2.20" fill="#339999"/>
<text x="293.1" y="266.60" font-family="Liberation Sans, sans-serif" font-size="18.4">0.50</text>
<circle cx="283.40" cy="286.10" r="2.20" fill="#3300ff"/>
<text x="293.1" y="291.20" font-family="Liberation Sans, sans-serif" font-size="18.4">0.40</text>
<circle cx="283.40" cy="310.60" r="2.20" fill="#9900ff"/>
<text x="293.1" y="315.70" font-family="Liberation Sans, sans-serif" font-size="18.4">0.30</text>
<circle cx="283.40" cy="335.20" r="2.20" fill="#000000"/>
<text x="293.1" y="340.30" font-family="Liberation Sans, sans-serif" font-size="18.4">0.00</text>
<line x1="281.00" y1="174.40" x2="333.40" y2="174.40" stroke="#000" stroke-width="1.0" stroke-dasharray="2.5 1.25"/>
<text x="298.0" y="145.6" font-family="Liberation Serif, serif" font-size="19">ϕ<tspan font-family="Liberation Sans, sans-serif" font-size="15.3" dy="4.2">m</tspan></text>
<text x="334.4" y="178.6" font-family="Liberation Serif, serif" font-size="19">ϕ<tspan font-family="Liberation Sans, sans-serif" font-size="15.3" dy="4.2">c</tspan></text>
</g>
<g id="pb">
<line x1="54.10" y1="539.00" x2="54.10" y2="534.60" stroke="#000" stroke-width="1.15" />
<line x1="54.10" y1="365.20" x2="54.10" y2="369.60" stroke="#000" stroke-width="1.15" />
<line x1="70.51" y1="539.00" x2="70.51" y2="536.70" stroke="#000" stroke-width="0.9199999999999999" />
<line x1="70.51" y1="365.20" x2="70.51" y2="367.50" stroke="#000" stroke-width="0.9199999999999999" />
<line x1="80.10" y1="539.00" x2="80.10" y2="536.70" stroke="#000" stroke-width="0.9199999999999999" />
<line x1="80.10" y1="365.20" x2="80.10" y2="367.50" stroke="#000" stroke-width="0.9199999999999999" />
<line x1="86.91" y1="539.00" x2="86.91" y2="536.70" stroke="#000" stroke-width="0.9199999999999999" />
<line x1="86.91" y1="365.20" x2="86.91" y2="367.50" stroke="#000" stroke-width="0.9199999999999999" />
<line x1="92.19" y1="539.00" x2="92.19" y2="536.70" stroke="#000" stroke-width="0.9199999999999999" />
<line x1="92.19" y1="365.20" x2="92.19" y2="367.50" stroke="#000" stroke-width="0.9199999999999999" />
<line x1="96.51" y1="539.00" x2="96.51" y2="536.70" stroke="#000" stroke-width="0.9199999999999999" />
<line x1="96.51" y1="365.20" x2="96.51" y2="367.50" stroke="#000" stroke-width="0.9199999999999999" />
<line x1="100.16" y1="539.00" x2="100.16" y2="536.70" stroke="#000" stroke-width="0.9199999999999999" />
<line x1="100.16" y1="365.20" x2="100.16" y2="367.50" stroke="#000" stroke-width="0.9199999999999999" />
<line x1="103.32" y1="539.00" x2="103.32" y2="536.70" stroke="#000" stroke-width="0.9199999999999999" />
<line x1="103.32" y1="365.20" x2="103.32" y2="367.50" stroke="#000" stroke-width="0.9199999999999999" />
<line x1="106.11" y1="539.00" x2="106.11" y2="536.70" stroke="#000" stroke-width="0.9199999999999999" />
<line x1="106.11" y1="365.20" x2="106.11" y2="367.50" stroke="#000" stroke-width="0.9199999999999999" />
<line x1="108.60" y1="539.00" x2="108.60" y2="534.60" stroke="#000" stroke-width="1.15" />
<line x1="108.60" y1="365.20" x2="108.60" y2="369.60" stroke="#000" stroke-width="1.15" />
<line x1="125.01" y1="539.00" x2="125.01" y2="536.70" stroke="#000" stroke-width="0.9199999999999999" />
<line x1="125.01" y1="365.20" x2="125.01" y2="367.50" stroke="#000" stroke-width="0.9199999999999999" />
<line x1="134.60" y1="539.00" x2="134.60" y2="536.70" stroke="#000" stroke-width="0.9199999999999999" />
<line x1="134.60" y1="365.20" x2="134.60" y2="367.50" stroke="#000" stroke-width="0.9199999999999999" />
<line x1="141.41" y1="539.00" x2="141.41" y2="536.70" stroke="#000" stroke-width="0.9199999999999999" />
<line x1="141.41" y1="365.20" x2="141.41" y2="367.50" stroke="#000" stroke-width="0.9199999999999999" />
<line x1="146.69" y1="539.00" x2="146.69" y2="536.70" stroke="#000" stroke-width="0.9199999999999999" />
<line x1="146.69" y1="365.20" x2="146.69" y2="367.50" stroke="#000" stroke-width="0.9199999999999999" />
<line x1="151.01" y1="539.00" x2="151.01" y2="536.70" stroke="#000" stroke-width="0.9199999999999999" />
<line x1="151.01" y1="365.20" x2="151.01" y2="367.50" stroke="#000" stroke-width="0.9199999999999999" />
<line x1="154.66" y1="539.00" x2="154.66" y2="536.70" stroke="#000" stroke-width="0.9199999999999999" />
<line x1="154.66" y1="365.20" x2="154.66" y2="367.50" stroke="#000" stroke-width="0.9199999999999999" />
<line x1="157.82" y1="539.00" x2="157.82" y2="536.70" stroke="#000" stroke-width="0.9199999999999999" />
<line x1="157.82" y1="365.20" x2="157.82" y2="367.50" stroke="#000" stroke-width="0.9199999999999999" />
<line x1="160.61" y1="539.00" x2="160.61" y2="536.70" stroke="#000" stroke-width="0.9199999999999999" />
<line x1="160.61" y1="365.20" x2="160.61" y2="367.50" stroke="#000" stroke-width="0.9199999999999999" />
<line x1="163.10" y1="539.00" x2="163.10" y2="534.60" stroke="#000" stroke-width="1.15" />
<line x1="163.10" y1="365.20" x2="163.10" y2="369.60" stroke="#000" stroke-width="1.15" />
<line x1="179.51" y1="539.00" x2="179.51" y2="536.70" stroke="#000" stroke-width="0.9199999999999999" />
<line x1="179.51" y1="365.20" x2="179.51" y2="367.50" stroke="#000" stroke-width="0.9199999999999999" />
<line x1="189.10" y1="539.00" x2="189.10" y2="536.70" stroke="#000" stroke-width="0.9199999999999999" />
<line x1="189.10" y1="365.20" x2="189.10" y2="367.50" stroke="#000" stroke-width="0.9199999999999999" />
<line x1="195.91" y1="539.00" x2="195.91" y2="536.70" stroke="#000" stroke-width="0.9199999999999999" />
<line x1="195.91" y1="365.20" x2="195.91" y2="367.50" stroke="#000" stroke-width="0.9199999999999999" />
<line x1="201.19" y1="539.00" x2="201.19" y2="536.70" stroke="#000" stroke-width="0.9199999999999999" />
<line x1="201.19" y1="365.20" x2="201.19" y2="367.50" stroke="#000" stroke-width="0.9199999999999999" />
<line x1="205.51" y1="539.00" x2="205.51" y2="536.70" stroke="#000" stroke-width="0.9199999999999999" />
<line x1="205.51" y1="365.20" x2="205.51" y2="367.50" stroke="#000" stroke-width="0.9199999999999999" />
<line x1="209.16" y1="539.00" x2="209.16" y2="536.70" stroke="#000" stroke-width="0.9199999999999999" />
<line x1="209.16" y1="365.20" x2="209.16" y2="367.50" stroke="#000" stroke-width="0.9199999999999999" />
<line x1="212.32" y1="539.00" x2="212.32" y2="536.70" stroke="#000" stroke-width="0.9199999999999999" />
<line x1="212.32" y1="365.20" x2="212.32" y2="367.50" stroke="#000" stroke-width="0.9199999999999999" />
<line x1="215.11" y1="539.00" x2="215.11" y2="536.70" stroke="#000" stroke-width="0.9199999999999999" />
<line x1="215.11" y1="365.20" x2="215.11" y2="367.50" stroke="#000" stroke-width="0.9199999999999999" />
<line x1="217.60" y1="539.00" x2="217.60" y2="534.60" stroke="#000" stroke-width="1.15" />
<line x1="217.60" y1="365.20" x2="217.60" y2="369.60" stroke="#000" stroke-width="1.15" />
<line x1="234.01" y1="539.00" x2="234.01" y2="536.70" stroke="#000" stroke-width="0.9199999999999999" />
<line x1="234.01" y1="365.20" x2="234.01" y2="367.50" stroke="#000" stroke-width="0.9199999999999999" />
<line x1="243.60" y1="539.00" x2="243.60" y2="536.70" stroke="#000" stroke-width="0.9199999999999999" />
<line x1="243.60" y1="365.20" x2="243.60" y2="367.50" stroke="#000" stroke-width="0.9199999999999999" />
<line x1="250.41" y1="539.00" x2="250.41" y2="536.70" stroke="#000" stroke-width="0.9199999999999999" />
<line x1="250.41" y1="365.20" x2="250.41" y2="367.50" stroke="#000" stroke-width="0.9199999999999999" />
<line x1="255.69" y1="539.00" x2="255.69" y2="536.70" stroke="#000" stroke-width="0.9199999999999999" />
<line x1="255.69" y1="365.20" x2="255.69" y2="367.50" stroke="#000" stroke-width="0.9199999999999999" />
<line x1="260.01" y1="539.00" x2="260.01" y2="536.70" stroke="#000" stroke-width="0.9199999999999999" />
<line x1="260.01" y1="365.20" x2="260.01" y2="367.50" stroke="#000" stroke-width="0.9199999999999999" />
<line x1="263.66" y1="539.00" x2="263.66" y2="536.70" stroke="#000" stroke-width="0.9199999999999999" />
<line x1="263.66" y1="365.20" x2="263.66" y2="367.50" stroke="#000" stroke-width="0.9199999999999999" />
<line x1="266.82" y1="539.00" x2="266.82" y2="536.70" stroke="#000" stroke-width="0.9199999999999999" />
<line x1="266.82" y1="365.20" x2="266.82" y2="367.50" stroke="#000" stroke-width="0.9199999999999999" />
<line x1="269.61" y1="539.00" x2="269.61" y2="536.70" stroke="#000" stroke-width="0.9199999999999999" />
<line x1="269.61" y1="365.20" x2="269.61" y2="367.50" stroke="#000" stroke-width="0.9199999999999999" />
<line x1="272.10" y1="539.00" x2="272.10" y2="534.60" stroke="#000" stroke-width="1.15" />
<line x1="272.10" y1="365.20" x2="272.10" y2="369.60" stroke="#000" stroke-width="1.15" />
<line x1="54.10" y1="537.89" x2="56.40" y2="537.89" stroke="#000" stroke-width="0.9199999999999999" />
<line x1="272.10" y1="537.89" x2="269.80" y2="537.89" stroke="#000" stroke-width="0.9199999999999999" />
<line x1="54.10" y1="534.71" x2="56.40" y2="534.71" stroke="#000" stroke-width="0.9199999999999999" />
<line x1="272.10" y1="534.71" x2="269.80" y2="534.71" stroke="#000" stroke-width="0.9199999999999999" />
<line x1="54.10" y1="532.02" x2="56.40" y2="532.02" stroke="#000" stroke-width="0.9199999999999999" />
<line x1="272.10" y1="532.02" x2="269.80" y2="532.02" stroke="#000" stroke-width="0.9199999999999999" />
<line x1="54.10" y1="529.69" x2="56.40" y2="529.69" stroke="#000" stroke-width="0.9199999999999999" />
<line x1="272.10" y1="529.69" x2="269.80" y2="529.69" stroke="#000" stroke-width="0.9199999999999999" />
<line x1="54.10" y1="527.64" x2="56.40" y2="527.64" stroke="#000" stroke-width="0.9199999999999999" />
<line x1="272.10" y1="527.64" x2="269.80" y2="527.64" stroke="#000" stroke-width="0.9199999999999999" />
<line x1="54.10" y1="525.80" x2="58.50" y2="525.80" stroke="#000" stroke-width="1.15" />
<line x1="272.10" y1="525.80" x2="267.70" y2="525.80" stroke="#000" stroke-width="1.15" />
<line x1="54.10" y1="513.71" x2="56.40" y2="513.71" stroke="#000" stroke-width="0.9199999999999999" />
<line x1="272.10" y1="513.71" x2="269.80" y2="513.71" stroke="#000" stroke-width="0.9199999999999999" />
<line x1="54.10" y1="506.64" x2="56.40" y2="506.64" stroke="#000" stroke-width="0.9199999999999999" />
<line x1="272.10" y1="506.64" x2="269.80" y2="506.64" stroke="#000" stroke-width="0.9199999999999999" />
<line x1="54.10" y1="501.63" x2="56.40" y2="501.63" stroke="#000" stroke-width="0.9199999999999999" />
<line x1="272.10" y1="501.63" x2="269.80" y2="501.63" stroke="#000" stroke-width="0.9199999999999999" />
<line x1="54.10" y1="497.74" x2="56.40" y2="497.74" stroke="#000" stroke-width="0.9199999999999999" />
<line x1="272.10" y1="497.74" x2="269.80" y2="497.74" stroke="#000" stroke-width="0.9199999999999999" />
<line x1="54.10" y1="494.56" x2="56.40" y2="494.56" stroke="#000" stroke-width="0.9199999999999999" />
<line x1="272.10" y1="494.56" x2="269.80" y2="494.56" stroke="#000" stroke-width="0.9199999999999999" />
<line x1="54.10" y1="491.87" x2="56.40" y2="491.87" stroke="#000" stroke-width="0.9199999999999999" />
<line x1="272.10" y1="491.87" x2="269.80" y2="491.87" stroke="#000" stroke-width="0.9199999999999999" />
<line x1="54.10" y1="489.54" x2="56.40" y2="489.54" stroke="#000" stroke-width="0.9199999999999999" />
<line x1="272.10" y1="489.54" x2="269.80" y2="489.54" stroke="#000" stroke-width="0.9199999999999999" />
<line x1="54.10" y1="487.49" x2="56.40" y2="487.49" stroke="#000" stroke-width="0.9199999999999999" />
<line x1="272.10" y1="487.49" x2="269.80" y2="487.49" stroke="#000" stroke-width="0.9199999999999999" />
<line x1="54.10" y1="485.65" x2="58.50" y2="485.65" stroke="#000" stroke-width="1.15" />
<line x1="272.10" y1="485.65" x2="267.70" y2="485.65" stroke="#000" stroke-width="1.15" />
<line x1="54.10" y1="473.56" x2="56.40" y2="473.56" stroke="#000" stroke-width="0.9199999999999999" />
<line x1="272.10" y1="473.56" x2="269.80" y2="473.56" stroke="#000" stroke-width="0.9199999999999999" />
<line x1="54.10" y1="466.49" x2="56.40" y2="466.49" stroke="#000" stroke-width="0.9199999999999999" />
<line x1="272.10" y1="466.49" x2="269.80" y2="466.49" stroke="#000" stroke-width="0.9199999999999999" />
<line x1="54.10" y1="461.48" x2="56.40" y2="461.48" stroke="#000" stroke-width="0.9199999999999999" />
<line x1="272.10" y1="461.48" x2="269.80" y2="461.48" stroke="#000" stroke-width="0.9199999999999999" />
<line x1="54.10" y1="457.59" x2="56.40" y2="457.59" stroke="#000" stroke-width="0.9199999999999999" />
<line x1="272.10" y1="457.59" x2="269.80" y2="457.59" stroke="#000" stroke-width="0.9199999999999999" />
<line x1="54.10" y1="454.41" x2="56.40" y2="454.41" stroke="#000" stroke-width="0.9199999999999999" />
<line x1="272.10" y1="454.41" x2="269.80" y2="454.41" stroke="#000" stroke-width="0.9199999999999999" />
<line x1="54.10" y1="451.72" x2="56.40" y2="451.72" stroke="#000" stroke-width="0.9199999999999999" />
<line x1="272.10" y1="451.72" x2="269.80" y2="451.72" stroke="#000" stroke-width="0.9199999999999999" />
<line x1="54.10" y1="449.39" x2="56.40" y2="449.39" stroke="#000" stroke-width="0.9199999999999999" />
<line x1="272.10" y1="449.39" x2="269.80" y2="449.39" stroke="#000" stroke-width="0.9199999999999999" />
<line x1="54.10" y1="447.34" x2="56.40" y2="447.34" stroke="#000" stroke-width="0.9199999999999999" />
<line x1="272.10" y1="447.34" x2="269.80" y2="447.34" stroke="#000" stroke-width="0.9199999999999999" />
<line x1="54.10" y1="445.50" x2="58.50" y2="445.50" stroke="#000" stroke-width="1.15" />
<line x1="272.10" y1="445.50" x2="267.70" y2="445.50" stroke="#000" stroke-width="1.15" />
<line x1="54.10" y1="433.41" x2="56.40" y2="433.41" stroke="#000" stroke-width="0.9199999999999999" />
<line x1="272.10" y1="433.41" x2="269.80" y2="433.41" stroke="#000" stroke-width="0.9199999999999999" />
<line x1="54.10" y1="426.34" x2="56.40" y2="426.34" stroke="#000" stroke-width="0.9199999999999999" />
<line x1="272.10" y1="426.34" x2="269.80" y2="426.34" stroke="#000" stroke-width="0.9199999999999999" />
<line x1="54.10" y1="421.33" x2="56.40" y2="421.33" stroke="#000" stroke-width="0.9199999999999999" />
<line x1="272.10" y1="421.33" x2="269.80" y2="421.33" stroke="#000" stroke-width="0.9199999999999999" />
<line x1="54.10" y1="417.44" x2="56.40" y2="417.44" stroke="#000" stroke-width="0.9199999999999999" />
<line x1="272.10" y1="417.44" x2="269.80" y2="417.44" stroke="#000" stroke-width="0.9199999999999999" />
<line x1="54.10" y1="414.26" x2="56.40" y2="414.26" stroke="#000" stroke-width="0.9199999999999999" />
<line x1="272.10" y1="414.26" x2="269.80" y2="414.26" stroke="#000" stroke-width="0.9199999999999999" />
<line x1="54.10" y1="411.57" x2="56.40" y2="411.57" stroke="#000" stroke-width="0.9199999999999999" />
<line x1="272.10" y1="411.57" x2="269.80" y2="411.57" stroke="#000" stroke-width="0.9199999999999999" />
<line x1="54.10" y1="409.24" x2="56.40" y2="409.24" stroke="#000" stroke-width="0.9199999999999999" />
<line x1="272.10" y1="409.24" x2="269.80" y2="409.24" stroke="#000" stroke-width="0.9199999999999999" />
<line x1="54.10" y1="407.19" x2="56.40" y2="407.19" stroke="#000" stroke-width="0.9199999999999999" />
<line x1="272.10" y1="407.19" x2="269.80" y2="407.19" stroke="#000" stroke-width="0.9199999999999999" />
<line x1="54.10" y1="405.35" x2="58.50" y2="405.35" stroke="#000" stroke-width="1.15" />
<line x1="272.10" y1="405.35" x2="267.70" y2="405.35" stroke="#000" stroke-width="1.15" />
<line x1="54.10" y1="393.26" x2="56.40" y2="393.26" stroke="#000" stroke-width="0.9199999999999999" />
<line x1="272.10" y1="393.26" x2="269.80" y2="393.26" stroke="#000" stroke-width="0.9199999999999999" />
<line x1="54.10" y1="386.19" x2="56.40" y2="386.19" stroke="#000" stroke-width="0.9199999999999999" />
<line x1="272.10" y1="386.19" x2="269.80" y2="386.19" stroke="#000" stroke-width="0.9199999999999999" />
<line x1="54.10" y1="381.18" x2="56.40" y2="381.18" stroke="#000" stroke-width="0.9199999999999999" />
<line x1="272.10" y1="381.18" x2="269.80" y2="381.18" stroke="#000" stroke-width="0.9199999999999999" />
<line x1="54.10" y1="377.29" x2="56.40" y2="377.29" stroke="#000" stroke-width="0.9199999999999999" />
<line x1="272.10" y1="377.29" x2="269.80" y2="377.29" stroke="#000" stroke-width="0.9199999999999999" />
<line x1="54.10" y1="374.11" x2="56.40" y2="374.11" stroke="#000" stroke-width="0.9199999999999999" />
<line x1="272.10" y1="374.11" x2="269.80" y2="374.11" stroke="#000" stroke-width="0.9199999999999999" />
<line x1="54.10" y1="371.42" x2="56.40" y2="371.42" stroke="#000" stroke-width="0.9199999999999999" />
<line x1="272.10" y1="371.42" x2="269.80" y2="371.42" stroke="#000" stroke-width="0.9199999999999999" />
<line x1="54.10" y1="369.09" x2="56.40" y2="369.09" stroke="#000" stroke-width="0.9199999999999999" />
<line x1="272.10" y1="369.09" x2="269.80" y2="369.09" stroke="#000" stroke-width="0.9199999999999999" />
<line x1="54.10" y1="367.04" x2="56.40" y2="367.04" stroke="#000" stroke-width="0.9199999999999999" />
<line x1="272.10" y1="367.04" x2="269.80" y2="367.04" stroke="#000" stroke-width="0.9199999999999999" />
<line x1="54.10" y1="365.20" x2="58.50" y2="365.20" stroke="#000" stroke-width="1.15" />
<line x1="272.10" y1="365.20" x2="267.70" y2="365.20" stroke="#000" stroke-width="1.15" />
<rect x="54.1" y="365.2" width="218.00" height="173.80" fill="none" stroke="#000" stroke-width="1.7"/>
<line x1="100.00" y1="365.20" x2="100.00" y2="539.00" stroke="#000" stroke-width="1.7" stroke-dasharray="8.0 4.3" stroke-dashoffset="-1.5"/>
<line x1="231.40" y1="365.20" x2="231.40" y2="539.00" stroke="#000" stroke-width="1.7" stroke-dasharray="8.0 4.3" stroke-dashoffset="-1.5"/>
<circle cx="59.55" cy="425.20" r="2.35" fill="#cc0000"/>
<circle cx="65.00" cy="439.98" r="2.35" fill="#cc0000"/>
<circle cx="70.45" cy="444.32" r="2.35" fill="#cc0000"/>
<circle cx="75.90" cy="446.90" r="2.35" fill="#cc0000"/>
<circle cx="81.35" cy="448.44" r="2.35" fill="#cc0000"/>
<circle cx="86.80" cy="449.71" r="2.35" fill="#cc0000"/>
<circle cx="92.25" cy="450.12" r="2.35" fill="#cc0000"/>
<circle cx="97.70" cy="450.58" r="2.35" fill="#cc0000"/>
<circle cx="103.15" cy="450.09" r="2.35" fill="#cc0000"/>
<circle cx="108.60" cy="449.75" r="2.35" fill="#cc0000"/>
<circle cx="114.05" cy="448.84" r="2.35" fill="#cc0000"/>
<circle cx="119.50" cy="447.46" r="2.35" fill="#cc0000"/>
<circle cx="124.95" cy="445.56" r="2.35" fill="#cc0000"/>
<circle cx="130.40" cy="443.42" r="2.35" fill="#cc0000"/>
<circle cx="135.85" cy="441.13" r="2.35" fill="#cc0000"/>
<circle cx="141.30" cy="438.69" r="2.35" fill="#cc0000"/>
<circle cx="146.75" cy="436.62" r="2.35" fill="#cc0000"/>
<circle cx="152.20" cy="433.90" r="2.35" fill="#cc0000"/>
<circle cx="157.65" cy="430.33" r="2.35" fill="#cc0000"/>
<circle cx="163.10" cy="424.40" r="2.35" fill="#cc0000"/>
<circle cx="168.55" cy="418.66" r="2.35" fill="#cc0000"/>
<circle cx="174.00" cy="414.36" r="2.35" fill="#cc0000"/>
<circle cx="179.45" cy="412.35" r="2.35" fill="#cc0000"/>
<circle cx="184.90" cy="409.75" r="2.35" fill="#cc0000"/>
<circle cx="190.35" cy="406.88" r="2.35" fill="#cc0000"/>
<circle cx="195.80" cy="404.35" r="2.35" fill="#cc0000"/>
<circle cx="201.25" cy="401.72" r="2.35" fill="#cc0000"/>
<circle cx="206.70" cy="399.25" r="2.35" fill="#cc0000"/>
<circle cx="212.15" cy="396.88" r="2.35" fill="#cc0000"/>
<circle cx="217.60" cy="394.57" r="2.35" fill="#cc0000"/>
<circle cx="223.05" cy="392.87" r="2.35" fill="#cc0000"/>
<circle cx="228.50" cy="391.79" r="2.35" fill="#cc0000"/>
<circle cx="233.95" cy="391.10" r="2.35" fill="#cc0000"/>
<circle cx="239.40" cy="390.90" r="2.35" fill="#cc0000"/>
<circle cx="244.85" cy="391.06" r="2.35" fill="#cc0000"/>
<circle cx="250.30" cy="391.31" r="2.35" fill="#cc0000"/>
<circle cx="255.75" cy="391.81" r="2.35" fill="#cc0000"/>
<circle cx="261.20" cy="392.21" r="2.35" fill="#cc0000"/>
<circle cx="266.65" cy="392.60" r="2.35" fill="#cc0000"/>
<circle cx="272.10" cy="392.60" r="2.35" fill="#cc0000"/>
<circle cx="54.10" cy="454.13" r="2.35" fill="#cc6600"/>
<circle cx="59.55" cy="456.38" r="2.35" fill="#cc6600"/>
<circle cx="65.00" cy="458.23" r="2.35" fill="#cc6600"/>
<circle cx="70.45" cy="459.71" r="2.35" fill="#cc6600"/>
<circle cx="75.90" cy="461.00" r="2.35" fill="#cc6600"/>
<circle cx="81.35" cy="461.92" r="2.35" fill="#cc6600"/>
<circle cx="86.80" cy="462.51" r="2.35" fill="#cc6600"/>
<circle cx="92.25" cy="462.90" r="2.35" fill="#cc6600"/>
<circle cx="97.70" cy="462.89" r="2.35" fill="#cc6600"/>
<circle cx="103.15" cy="462.48" r="2.35" fill="#cc6600"/>
<circle cx="108.60" cy="461.85" r="2.35" fill="#cc6600"/>
<circle cx="114.05" cy="460.58" r="2.35" fill="#cc6600"/>
<circle cx="119.50" cy="459.68" r="2.35" fill="#cc6600"/>
<circle cx="124.95" cy="458.41" r="2.35" fill="#cc6600"/>
<circle cx="130.40" cy="456.53" r="2.35" fill="#cc6600"/>
<circle cx="135.85" cy="454.52" r="2.35" fill="#cc6600"/>
<circle cx="141.30" cy="451.75" r="2.35" fill="#cc6600"/>
<circle cx="146.75" cy="448.87" r="2.35" fill="#cc6600"/>
<circle cx="152.20" cy="445.64" r="2.35" fill="#cc6600"/>
<circle cx="157.65" cy="442.27" r="2.35" fill="#cc6600"/>
<circle cx="163.10" cy="439.00" r="2.35" fill="#cc6600"/>
<circle cx="168.55" cy="435.87" r="2.35" fill="#cc6600"/>
<circle cx="174.00" cy="432.78" r="2.35" fill="#cc6600"/>
<circle cx="179.45" cy="429.61" r="2.35" fill="#cc6600"/>
<circle cx="184.90" cy="426.24" r="2.35" fill="#cc6600"/>
<circle cx="190.35" cy="423.07" r="2.35" fill="#cc6600"/>
<circle cx="195.80" cy="419.77" r="2.35" fill="#cc6600"/>
<circle cx="201.25" cy="416.37" r="2.35" fill="#cc6600"/>
<circle cx="206.70" cy="413.50" r="2.35" fill="#cc6600"/>
<circle cx="212.15" cy="410.98" r="2.35" fill="#cc6600"/>
<circle cx="217.60" cy="408.35" r="2.35" fill="#cc6600"/>
<circle cx="223.05" cy="405.85" r="2.35" fill="#cc6600"/>
<circle cx="228.50" cy="403.88" r="2.35" fill="#cc6600"/>
<circle cx="233.95" cy="402.59" r="2.35" fill="#cc6600"/>
<circle cx="239.40" cy="401.50" r="2.35" fill="#cc6600"/>
<circle cx="244.85" cy="402.58" r="2.35" fill="#cc6600"/>
<circle cx="250.30" cy="402.00" r="2.35" fill="#cc6600"/>
<circle cx="255.75" cy="401.71" r="2.35" fill="#cc6600"/>
<circle cx="261.20" cy="400.27" r="2.35" fill="#cc6600"/>
<circle cx="266.65" cy="399.21" r="2.35" fill="#cc6600"/>
<circle cx="272.10" cy="397.30" r="2.35" fill="#cc6600"/>
<circle cx="54.10" cy="469.68" r="2.35" fill="#33cc00"/>
<circle cx="59.55" cy="471.05" r="2.35" fill="#33cc00"/>
<circle cx="65.00" cy="472.12" r="2.35" fill="#33cc00"/>
<circle cx="70.45" cy="473.11" r="2.35" fill="#33cc00"/>
<circle cx="75.90" cy="473.80" r="2.35" fill="#33cc00"/>
<circle cx="81.35" cy="474.10" r="2.35" fill="#33cc00"/>
<circle cx="86.80" cy="474.10" r="2.35" fill="#33cc00"/>
<circle cx="92.25" cy="473.99" r="2.35" fill="#33cc00"/>
<circle cx="97.70" cy="473.79" r="2.35" fill="#33cc00"/>
<circle cx="103.15" cy="473.38" r="2.35" fill="#33cc00"/>
<circle cx="108.60" cy="472.76" r="2.35" fill="#33cc00"/>
<circle cx="114.05" cy="471.57" r="2.35" fill="#33cc00"/>
<circle cx="119.50" cy="470.58" r="2.35" fill="#33cc00"/>
<circle cx="124.95" cy="469.53" r="2.35" fill="#33cc00"/>
<circle cx="130.40" cy="467.94" r="2.35" fill="#33cc00"/>
<circle cx="135.85" cy="466.35" r="2.35" fill="#33cc00"/>
<circle cx="141.30" cy="464.46" r="2.35" fill="#33cc00"/>
<circle cx="146.75" cy="462.48" r="2.35" fill="#33cc00"/>
<circle cx="152.20" cy="460.36" r="2.35" fill="#33cc00"/>
<circle cx="157.65" cy="458.08" r="2.35" fill="#33cc00"/>
<circle cx="163.10" cy="455.76" r="2.35" fill="#33cc00"/>
<circle cx="168.55" cy="453.33" r="2.35" fill="#33cc00"/>
<circle cx="174.00" cy="450.70" r="2.35" fill="#33cc00"/>
<circle cx="179.45" cy="448.08" r="2.35" fill="#33cc00"/>
<circle cx="184.90" cy="445.50" r="2.35" fill="#33cc00"/>
<circle cx="190.35" cy="442.83" r="2.35" fill="#33cc00"/>
<circle cx="195.80" cy="440.35" r="2.35" fill="#33cc00"/>
<circle cx="201.25" cy="437.79" r="2.35" fill="#33cc00"/>
<circle cx="206.70" cy="435.32" r="2.35" fill="#33cc00"/>
<circle cx="212.15" cy="433.05" r="2.35" fill="#33cc00"/>
<circle cx="217.60" cy="431.20" r="2.35" fill="#33cc00"/>
<circle cx="223.05" cy="429.18" r="2.35" fill="#33cc00"/>
<circle cx="228.50" cy="427.27" r="2.35" fill="#33cc00"/>
<circle cx="233.95" cy="425.64" r="2.35" fill="#33cc00"/>
<circle cx="239.40" cy="424.08" r="2.35" fill="#33cc00"/>
<circle cx="244.85" cy="422.92" r="2.35" fill="#33cc00"/>
<circle cx="250.30" cy="421.99" r="2.35" fill="#33cc00"/>
<circle cx="255.75" cy="421.40" r="2.35" fill="#33cc00"/>
<circle cx="261.20" cy="421.21" r="2.35" fill="#33cc00"/>
<circle cx="266.65" cy="421.61" r="2.35" fill="#33cc00"/>
<circle cx="272.10" cy="422.35" r="2.35" fill="#33cc00"/>
<circle cx="54.10" cy="481.87" r="2.35" fill="#339999"/>
<circle cx="59.55" cy="483.11" r="2.35" fill="#339999"/>
<circle cx="65.00" cy="483.31" r="2.35" fill="#339999"/>
<circle cx="70.45" cy="483.60" r="2.35" fill="#339999"/>
<circle cx="75.90" cy="483.70" r="2.35" fill="#339999"/>
<circle cx="81.35" cy="483.70" r="2.35" fill="#339999"/>
<circle cx="86.80" cy="483.70" r="2.35" fill="#339999"/>
<circle cx="92.25" cy="483.59" r="2.35" fill="#339999"/>
<circle cx="97.70" cy="483.29" r="2.35" fill="#339999"/>
<circle cx="103.15" cy="482.88" r="2.35" fill="#339999"/>
<circle cx="108.60" cy="482.17" r="2.35" fill="#339999"/>
<circle cx="114.05" cy="481.38" r="2.35" fill="#339999"/>
<circle cx="119.50" cy="480.78" r="2.35" fill="#339999"/>
<circle cx="124.95" cy="479.84" r="2.35" fill="#339999"/>
<circle cx="130.40" cy="478.56" r="2.35" fill="#339999"/>
<circle cx="135.85" cy="477.56" r="2.35" fill="#339999"/>
<circle cx="141.30" cy="476.28" r="2.35" fill="#339999"/>
<circle cx="146.75" cy="474.99" r="2.35" fill="#339999"/>
<circle cx="152.20" cy="473.37" r="2.35" fill="#339999"/>
<circle cx="157.65" cy="471.79" r="2.35" fill="#339999"/>
<circle cx="163.10" cy="470.27" r="2.35" fill="#339999"/>
<circle cx="168.55" cy="468.66" r="2.35" fill="#339999"/>
<circle cx="174.00" cy="467.04" r="2.35" fill="#339999"/>
<circle cx="179.45" cy="465.43" r="2.35" fill="#339999"/>
<circle cx="184.90" cy="463.85" r="2.35" fill="#339999"/>
<circle cx="190.35" cy="462.36" r="2.35" fill="#339999"/>
<circle cx="195.80" cy="461.08" r="2.35" fill="#339999"/>
<circle cx="201.25" cy="460.05" r="2.35" fill="#339999"/>
<circle cx="206.70" cy="458.87" r="2.35" fill="#339999"/>
<circle cx="212.15" cy="457.98" r="2.35" fill="#339999"/>
<circle cx="217.60" cy="457.30" r="2.35" fill="#339999"/>
<circle cx="223.05" cy="456.90" r="2.35" fill="#339999"/>
<circle cx="228.50" cy="456.90" r="2.35" fill="#339999"/>
<circle cx="233.95" cy="457.10" r="2.35" fill="#339999"/>
<circle cx="239.40" cy="457.62" r="2.35" fill="#339999"/>
<circle cx="244.85" cy="458.24" r="2.35" fill="#339999"/>
<circle cx="250.30" cy="459.53" r="2.35" fill="#339999"/>
<circle cx="255.75" cy="460.99" r="2.35" fill="#339999"/>
<circle cx="261.20" cy="462.93" r="2.35" fill="#339999"/>
<circle cx="266.65" cy="464.82" r="2.35" fill="#339999"/>
<circle cx="272.10" cy="466.90" r="2.35" fill="#339999"/>
<circle cx="54.10" cy="493.53" r="2.35" fill="#3300ff"/>
<circle cx="59.55" cy="494.10" r="2.35" fill="#3300ff"/>
<circle cx="65.00" cy="494.10" r="2.35" fill="#3300ff"/>
<circle cx="70.45" cy="494.10" r="2.35" fill="#3300ff"/>
<circle cx="75.90" cy="494.10" r="2.35" fill="#3300ff"/>
<circle cx="81.35" cy="494.10" r="2.35" fill="#3300ff"/>
<circle cx="86.80" cy="494.10" r="2.35" fill="#3300ff"/>
<circle cx="92.25" cy="494.10" r="2.35" fill="#3300ff"/>
<circle cx="97.70" cy="494.08" r="2.35" fill="#3300ff"/>
<circle cx="103.15" cy="493.49" r="2.35" fill="#3300ff"/>
<circle cx="108.60" cy="492.98" r="2.35" fill="#3300ff"/>
<circle cx="114.05" cy="492.49" r="2.35" fill="#3300ff"/>
<circle cx="119.50" cy="491.99" r="2.35" fill="#3300ff"/>
<circle cx="124.95" cy="491.57" r="2.35" fill="#3300ff"/>
<circle cx="130.40" cy="490.97" r="2.35" fill="#3300ff"/>
<circle cx="135.85" cy="490.28" r="2.35" fill="#3300ff"/>
<circle cx="141.30" cy="489.39" r="2.35" fill="#3300ff"/>
<circle cx="146.75" cy="488.79" r="2.35" fill="#3300ff"/>
<circle cx="152.20" cy="487.99" r="2.35" fill="#3300ff"/>
<circle cx="157.65" cy="487.39" r="2.35" fill="#3300ff"/>
<circle cx="163.10" cy="486.69" r="2.35" fill="#3300ff"/>
<circle cx="168.55" cy="485.88" r="2.35" fill="#3300ff"/>
<circle cx="174.00" cy="484.98" r="2.35" fill="#3300ff"/>
<circle cx="179.45" cy="484.37" r="2.35" fill="#3300ff"/>
<circle cx="184.90" cy="483.77" r="2.35" fill="#3300ff"/>
<circle cx="190.35" cy="483.09" r="2.35" fill="#3300ff"/>
<circle cx="195.80" cy="482.70" r="2.35" fill="#3300ff"/>
<circle cx="201.25" cy="482.50" r="2.35" fill="#3300ff"/>
<circle cx="206.70" cy="482.50" r="2.35" fill="#3300ff"/>
<circle cx="212.15" cy="482.51" r="2.35" fill="#3300ff"/>
<circle cx="217.60" cy="482.80" r="2.35" fill="#3300ff"/>
<circle cx="223.05" cy="483.00" r="2.35" fill="#3300ff"/>
<circle cx="228.50" cy="483.31" r="2.35" fill="#3300ff"/>
<circle cx="233.95" cy="483.91" r="2.35" fill="#3300ff"/>
<circle cx="239.40" cy="484.59" r="2.35" fill="#3300ff"/>
<circle cx="244.85" cy="485.62" r="2.35" fill="#3300ff"/>
<circle cx="250.30" cy="486.52" r="2.35" fill="#3300ff"/>
<circle cx="255.75" cy="487.49" r="2.35" fill="#3300ff"/>
<circle cx="261.20" cy="488.82" r="2.35" fill="#3300ff"/>
<circle cx="266.65" cy="489.66" r="2.35" fill="#3300ff"/>
<circle cx="272.10" cy="490.70" r="2.35" fill="#3300ff"/>
<circle cx="54.10" cy="506.70" r="2.35" fill="#9900ff"/>
<circle cx="59.55" cy="506.66" r="2.35" fill="#9900ff"/>
<circle cx="65.00" cy="506.62" r="2.35" fill="#9900ff"/>
<circle cx="70.45" cy="506.58" r="2.35" fill="#9900ff"/>
<circle cx="75.90" cy="506.54" r="2.35" fill="#9900ff"/>
<circle cx="81.35" cy="506.50" r="2.35" fill="#9900ff"/>
<circle cx="86.80" cy="506.47" r="2.35" fill="#9900ff"/>
<circle cx="92.25" cy="506.43" r="2.35" fill="#9900ff"/>
<circle cx="97.70" cy="506.39" r="2.35" fill="#9900ff"/>
<circle cx="103.15" cy="506.35" r="2.35" fill="#9900ff"/>
<circle cx="108.60" cy="506.31" r="2.35" fill="#9900ff"/>
<circle cx="114.05" cy="506.19" r="2.35" fill="#9900ff"/>
<circle cx="119.50" cy="506.05" r="2.35" fill="#9900ff"/>
<circle cx="124.95" cy="505.91" r="2.35" fill="#9900ff"/>
<circle cx="130.40" cy="505.77" r="2.35" fill="#9900ff"/>
<circle cx="135.85" cy="505.63" r="2.35" fill="#9900ff"/>
<circle cx="141.30" cy="505.49" r="2.35" fill="#9900ff"/>
<circle cx="146.75" cy="505.34" r="2.35" fill="#9900ff"/>
<circle cx="152.20" cy="505.20" r="2.35" fill="#9900ff"/>
<circle cx="157.65" cy="505.06" r="2.35" fill="#9900ff"/>
<circle cx="163.10" cy="505.01" r="2.35" fill="#9900ff"/>
<circle cx="168.55" cy="505.01" r="2.35" fill="#9900ff"/>
<circle cx="174.00" cy="505.02" r="2.35" fill="#9900ff"/>
<circle cx="179.45" cy="505.03" r="2.35" fill="#9900ff"/>
<circle cx="184.90" cy="505.04" r="2.35" fill="#9900ff"/>
<circle cx="190.35" cy="505.05" r="2.35" fill="#9900ff"/>
<circle cx="195.80" cy="505.06" r="2.35" fill="#9900ff"/>
<circle cx="201.25" cy="505.07" r="2.35" fill="#9900ff"/>
<circle cx="206.70" cy="505.08" r="2.35" fill="#9900ff"/>
<circle cx="212.15" cy="505.09" r="2.35" fill="#9900ff"/>
<circle cx="217.60" cy="505.10" r="2.35" fill="#9900ff"/>
<circle cx="223.05" cy="505.30" r="2.35" fill="#9900ff"/>
<circle cx="228.50" cy="505.51" r="2.35" fill="#9900ff"/>
<circle cx="233.95" cy="505.95" r="2.35" fill="#9900ff"/>
<circle cx="239.40" cy="506.22" r="2.35" fill="#9900ff"/>
<circle cx="244.85" cy="506.82" r="2.35" fill="#9900ff"/>
<circle cx="250.30" cy="507.72" r="2.35" fill="#9900ff"/>
<circle cx="255.75" cy="508.79" r="2.35" fill="#9900ff"/>
<circle cx="54.10" cy="531.00" r="2.35" fill="#000000"/>
<circle cx="59.55" cy="530.95" r="2.35" fill="#000000"/>
<circle cx="65.00" cy="531.87" r="2.35" fill="#000000"/>
<circle cx="70.45" cy="531.19" r="2.35" fill="#000000"/>
<circle cx="75.90" cy="531.00" r="2.35" fill="#000000"/>
<circle cx="81.35" cy="530.98" r="2.35" fill="#000000"/>
<circle cx="86.80" cy="530.97" r="2.35" fill="#000000"/>
<circle cx="92.25" cy="530.95" r="2.35" fill="#000000"/>
<circle cx="97.70" cy="530.94" r="2.35" fill="#000000"/>
<circle cx="103.15" cy="530.92" r="2.35" fill="#000000"/>
<circle cx="108.60" cy="530.90" r="2.35" fill="#000000"/>
<circle cx="114.05" cy="530.84" r="2.35" fill="#000000"/>
<circle cx="119.50" cy="530.77" r="2.35" fill="#000000"/>
<circle cx="124.95" cy="530.69" r="2.35" fill="#000000"/>
<circle cx="130.40" cy="530.61" r="2.35" fill="#000000"/>
<circle cx="135.85" cy="530.54" r="2.35" fill="#000000"/>
<circle cx="141.30" cy="530.46" r="2.35" fill="#000000"/>
<circle cx="146.75" cy="530.39" r="2.35" fill="#000000"/>
<circle cx="152.20" cy="530.31" r="2.35" fill="#000000"/>
<circle cx="157.65" cy="530.23" r="2.35" fill="#000000"/>
<circle cx="163.10" cy="530.21" r="2.35" fill="#000000"/>
<circle cx="168.55" cy="530.23" r="2.35" fill="#000000"/>
<circle cx="174.00" cy="530.25" r="2.35" fill="#000000"/>
<circle cx="179.45" cy="530.27" r="2.35" fill="#000000"/>
<circle cx="184.90" cy="530.29" r="2.35" fill="#000000"/>
<circle cx="190.35" cy="530.31" r="2.35" fill="#000000"/>
<circle cx="195.80" cy="530.32" r="2.35" fill="#000000"/>
<circle cx="201.25" cy="530.34" r="2.35" fill="#000000"/>
<circle cx="206.70" cy="530.36" r="2.35" fill="#000000"/>
<circle cx="212.15" cy="530.38" r="2.35" fill="#000000"/>
<circle cx="217.60" cy="530.40" r="2.35" fill="#000000"/>
<circle cx="223.05" cy="530.47" r="2.35" fill="#000000"/>
<circle cx="228.50" cy="530.53" r="2.35" fill="#000000"/>
<circle cx="233.95" cy="530.60" r="2.35" fill="#000000"/>
<circle cx="239.40" cy="530.61" r="2.35" fill="#000000"/>
<circle cx="244.85" cy="531.00" r="2.35" fill="#000000"/>
<line x1="54.00" y1="505.40" x2="243.30" y2="365.20" stroke="#000" stroke-width="2.0" />
<path d="M160.3 424.5V408.4H183.4" fill="none" stroke="#222" stroke-width="0.9"/>
<path d="M171.95 403.60 L171.95 395.75 L169.94 397.19 L169.94 396.11 L172.05 394.66 L173.10 394.66 L173.10 403.60Z" fill="#000"/>
<path d="M153.85 421.80 L153.85 413.95 L151.84 415.39 L151.84 414.31 L153.95 412.86 L155.00 412.86 L155.00 421.80Z" fill="#000"/>
<path d="M40.09 557.70 L40.09 546.83 L37.30 548.82 L37.30 547.33 L40.22 545.32 L41.68 545.32 L41.68 557.70Z" fill="#000"/><text x="45.58" y="557.70" font-family="Liberation Sans, sans-serif" font-size="18">0</text><text x="55.19" y="552.70" font-family="Liberation Sans, sans-serif" font-size="14.6">−</text><path d="M67.39 551.10 L67.39 542.28 L65.12 543.90 L65.12 542.69 L67.49 541.06 L68.68 541.06 L68.68 551.10Z" fill="#000"/>
<path d="M98.85 557.70 L98.85 546.83 L96.06 548.82 L96.06 547.33 L98.99 545.32 L100.45 545.32 L100.45 557.70Z" fill="#000"/><text x="104.34" y="557.70" font-family="Liberation Sans, sans-serif" font-size="18">0</text><text x="113.95" y="551.10" font-family="Liberation Sans, sans-serif" font-size="14.6">0</text>
<path d="M153.35 557.70 L153.35 546.83 L150.56 548.82 L150.56 547.33 L153.49 545.32 L154.95 545.32 L154.95 557.70Z" fill="#000"/><text x="158.84" y="557.70" font-family="Liberation Sans, sans-serif" font-size="18">0</text><path d="M172.12 551.10 L172.12 542.28 L169.86 543.90 L169.86 542.69 L172.23 541.06 L173.41 541.06 L173.41 551.10Z" fill="#000"/>
<path d="M207.85 557.70 L207.85 546.83 L205.06 548.82 L205.06 547.33 L207.99 545.32 L209.45 545.32 L209.45 557.70Z" fill="#000"/><text x="213.34" y="557.70" font-family="Liberation Sans, sans-serif" font-size="18">0</text><text x="222.95" y="551.10" font-family="Liberation Sans, sans-serif" font-size="14.6">2</text>
<path d="M262.35 557.70 L262.35 546.83 L259.56 548.82 L259.56 547.33 L262.49 545.32 L263.95 545.32 L263.95 557.70Z" fill="#000"/><text x="267.84" y="557.70" font-family="Liberation Sans, sans-serif" font-size="18">0</text><text x="277.45" y="551.10" font-family="Liberation Sans, sans-serif" font-size="14.6">3</text>
<path d="M19.56 532.70 L19.56 521.83 L16.76 523.82 L16.76 522.33 L19.69 520.32 L21.15 520.32 L21.15 532.70Z" fill="#000"/><text x="25.04" y="532.70" font-family="Liberation Sans, sans-serif" font-size="18">0</text><text x="34.65" y="528.30" font-family="Liberation Sans, sans-serif" font-size="14.6">−</text><path d="M46.85 526.70 L46.85 517.88 L44.58 519.50 L44.58 518.29 L46.96 516.66 L48.14 516.66 L48.14 526.70Z" fill="#000"/>
<path d="M27.38 491.65 L27.38 480.78 L24.59 482.77 L24.59 481.28 L27.51 479.27 L28.97 479.27 L28.97 491.65Z" fill="#000"/><text x="32.87" y="491.65" font-family="Liberation Sans, sans-serif" font-size="18">0</text><text x="42.48" y="485.65" font-family="Liberation Sans, sans-serif" font-size="14.6">0</text>
<path d="M27.38 451.50 L27.38 440.63 L24.59 442.62 L24.59 441.13 L27.51 439.12 L28.97 439.12 L28.97 451.50Z" fill="#000"/><text x="32.87" y="451.50" font-family="Liberation Sans, sans-serif" font-size="18">0</text><path d="M46.15 445.50 L46.15 436.68 L43.88 438.30 L43.88 437.09 L46.26 435.46 L47.44 435.46 L47.44 445.50Z" fill="#000"/>
<path d="M27.38 411.35 L27.38 400.48 L24.59 402.47 L24.59 400.98 L27.51 398.97 L28.97 398.97 L28.97 411.35Z" fill="#000"/><text x="32.87" y="411.35" font-family="Liberation Sans, sans-serif" font-size="18">0</text><text x="42.48" y="405.35" font-family="Liberation Sans, sans-serif" font-size="14.6">2</text>
<path d="M27.38 370.60 L27.38 359.73 L24.59 361.72 L24.59 360.23 L27.51 358.22 L28.97 358.22 L28.97 370.60Z" fill="#000"/><text x="32.87" y="370.60" font-family="Liberation Sans, sans-serif" font-size="18">0</text><text x="42.48" y="364.60" font-family="Liberation Sans, sans-serif" font-size="14.6">3</text>
<text x="57.9" y="383.4" font-family="Liberation Sans, sans-serif" font-size="17.8">(b)</text>
<text x="103.0" y="519.2" font-family="Liberation Serif, serif" font-size="19">τ<tspan font-family="Liberation Sans, sans-serif" font-size="15.3" dy="4.2">min</tspan></text>
<text x="233.8" y="520.2" font-family="Liberation Serif, serif" font-size="19">τ<tspan font-family="Liberation Sans, sans-serif" font-size="15.3" dy="4.2">max</tspan></text>
<text transform="translate(17.5,480.4) rotate(-90)" font-family="Liberation Sans, sans-serif" font-size="18"><tspan font-family="Liberation Serif, serif" font-size="21.5">η</tspan> (Pa·s)</text>
<text x="145.8" y="579.6" font-family="Liberation Sans, sans-serif" font-size="18"><tspan font-family="Liberation Serif, serif" font-size="21.5">τ</tspan> (Pa)</text>
</g>
</svg>
</body></html>
